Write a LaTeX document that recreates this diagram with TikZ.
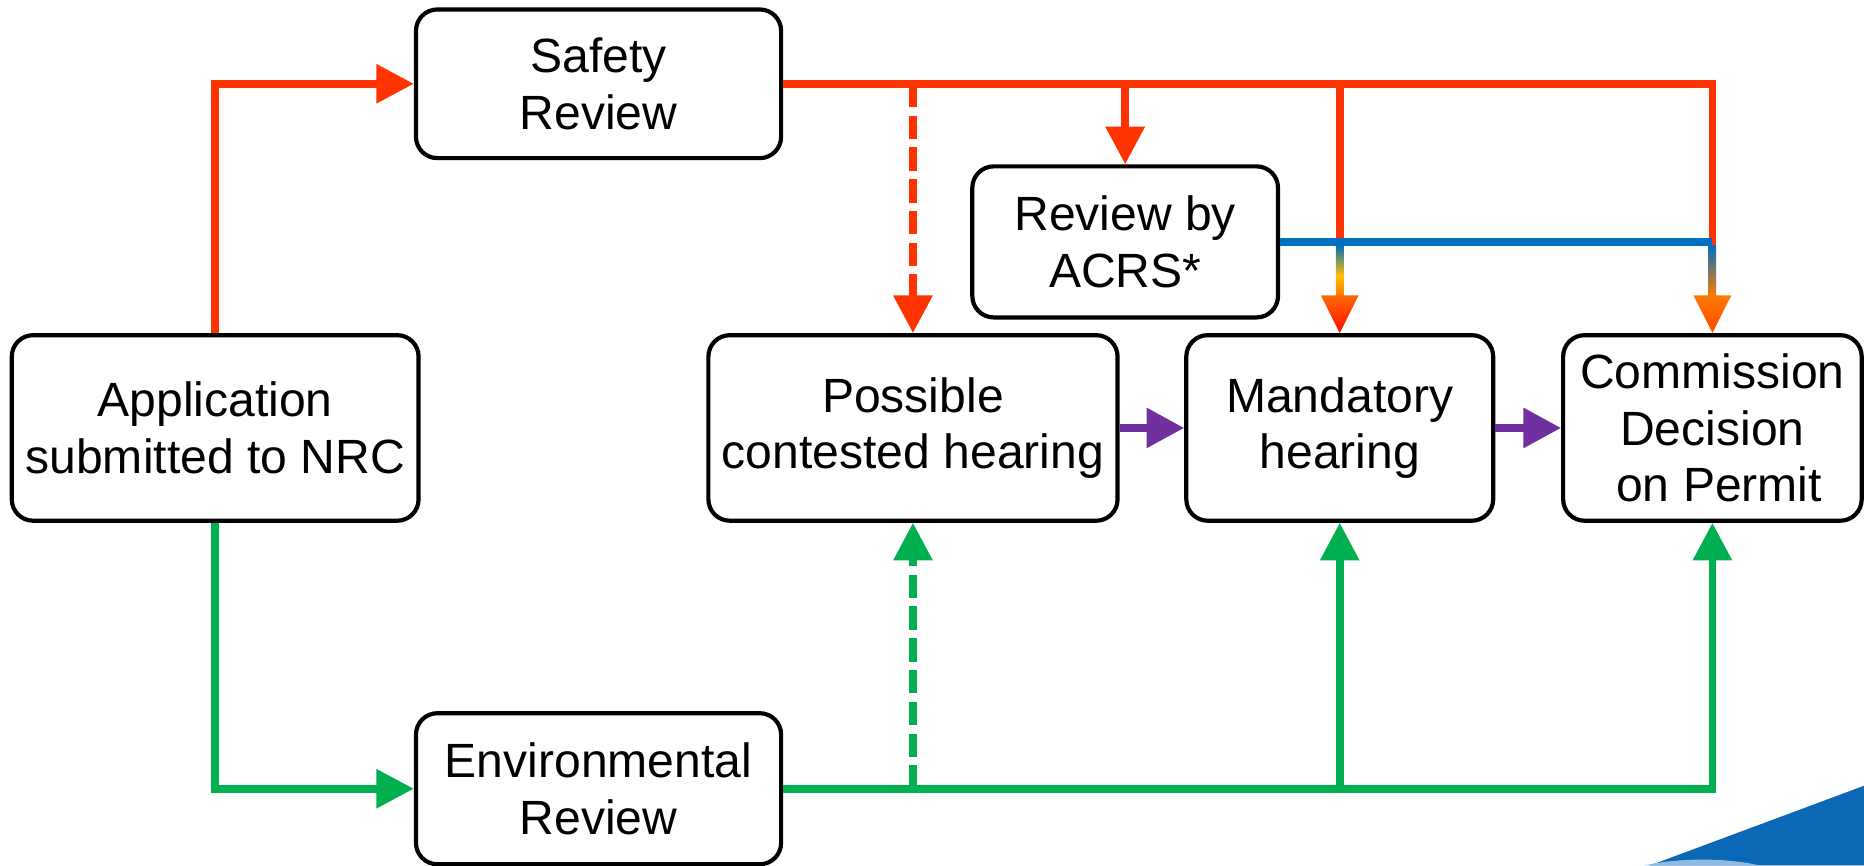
\documentclass[tikz,border=0pt]{standalone}
\usepackage{fontspec}
\setmainfont{Liberation Sans}
\usetikzlibrary{arrows.meta,calc}
\definecolor{redC}{HTML}{FF3300}
\definecolor{greenC}{HTML}{00B050}
\definecolor{purpleC}{HTML}{7030A0}
\definecolor{blueC}{HTML}{0070C0}
\definecolor{yellowC}{HTML}{FFC000}
\definecolor{orangeC}{HTML}{FF7A00}
\definecolor{orangeD}{HTML}{FF6A00}
\definecolor{tipRed}{HTML}{FF0A00}
\definecolor{tipOr}{HTML}{FF4A00}
\definecolor{decoBlue}{HTML}{0B68B6}
\definecolor{decoLight}{HTML}{8FBBE3}
\begin{document}
\begin{tikzpicture}[x=0.01cm,y=-0.01cm,
  box/.style={draw=black, line width=1pt, rounded corners=0.18cm, align=center,
    font=\fontsize{11.5}{13.5}\selectfont, inner sep=0pt, fill=white},
  conn/.style={line width=1.8pt, -{Triangle[width=9pt,length=9pt]}},
  pconn/.style={line width=1.8pt, -{Triangle[width=9.2pt,length=9pt]}},
  dashline/.style={dash pattern=on 5.6pt off 2pt}]
\useasboundingbox (0,0) rectangle (1568,728);

% decorative corner
\fill[decoBlue] (1388,728) -- (1568,661) -- (1568,728) -- cycle;
\fill[decoLight] (1383,728) .. controls (1410,722) and (1450,721) .. (1480,728) -- cycle;

% nodes
\node[box, minimum width=3.07cm, minimum height=1.25cm] (safety) at (503.5,70.5) {Safety\\Review};
\node[box, minimum width=2.57cm, minimum height=1.27cm] (acrs) at (946.5,203.5) {Review by\\ACRS*};
\node[box, minimum width=3.42cm, minimum height=1.56cm] (app) at (181,360) {Application\\submitted to NRC};
\node[box, minimum width=3.44cm, minimum height=1.56cm] (poss) at (768,360) {Possible\\contested hearing};
\node[box, minimum width=2.58cm, minimum height=1.56cm] (mand) at (1127,360) {Mandatory\\hearing};
\node[box, minimum width=2.51cm, minimum height=1.56cm] (comm) at (1440.5,360) {Commission\\Decision\\\ on Permit};
\node[box, minimum width=3.07cm, minimum height=1.27cm] (env) at (503.5,663.5) {Environmental\\Review};

% red (safety) connectors
\draw[conn, redC] (app.north) |- (safety.west);
\draw[redC, line width=1.8pt, shorten >=8.5pt] (safety.east) -| (comm.north);
\draw[conn, redC, dashline] (poss.north |- safety.east) -- (poss.north);
\draw[conn, redC] (acrs.north |- safety.east) -- (acrs.north);
\draw[redC, line width=1.8pt, shorten >=8.5pt] (mand.north |- safety.east) -- (mand.north);

% blue (ACRS) connector
\coordinate (bc) at (acrs.east -| comm.north);
\draw[blueC, line width=1.8pt] (acrs.east) -- (bc);

% gradient shafts and heads
\coordinate (mn) at (mand.north);
\coordinate (mb) at (acrs.east -| mand.north);
\shade[top color=blueC, bottom color=yellowC] ($(mb)+(-3.2,3)$) rectangle ($(mn)+(3.2,-48)$);
\shade[top color=yellowC, bottom color=orangeC] ($(mn)+(-3.2,-48.5)$) rectangle ($(mn)+(3.2,-31)$);
\shade[top color=orangeD, bottom color=tipRed] ($(mn)+(-15.9,-31.75)$) -- ($(mn)+(15.9,-31.75)$) -- (mn) -- cycle;
\coordinate (cn) at (comm.north);
\shade[top color=blueC, bottom color=orangeC] ($(bc)+(-3.2,3)$) rectangle ($(cn)+(3.2,-31)$);
\shade[top color=orangeC, bottom color=tipOr] ($(cn)+(-15.9,-31.75)$) -- ($(cn)+(15.9,-31.75)$) -- (cn) -- cycle;

% green (environmental) connectors
\draw[conn, greenC] (app.south) |- (env.west);
\draw[conn, greenC] (env.east) -| (comm.south);
\draw[conn, greenC, dashline] (poss.south |- env.east) -- (poss.south);
\draw[conn, greenC] (mand.south |- env.east) -- (mand.south);

% purple connectors
\draw[pconn, purpleC] (poss.east) -- (mand.west);
\draw[pconn, purpleC] (mand.east) -- (comm.west);
\end{tikzpicture}
\end{document}
